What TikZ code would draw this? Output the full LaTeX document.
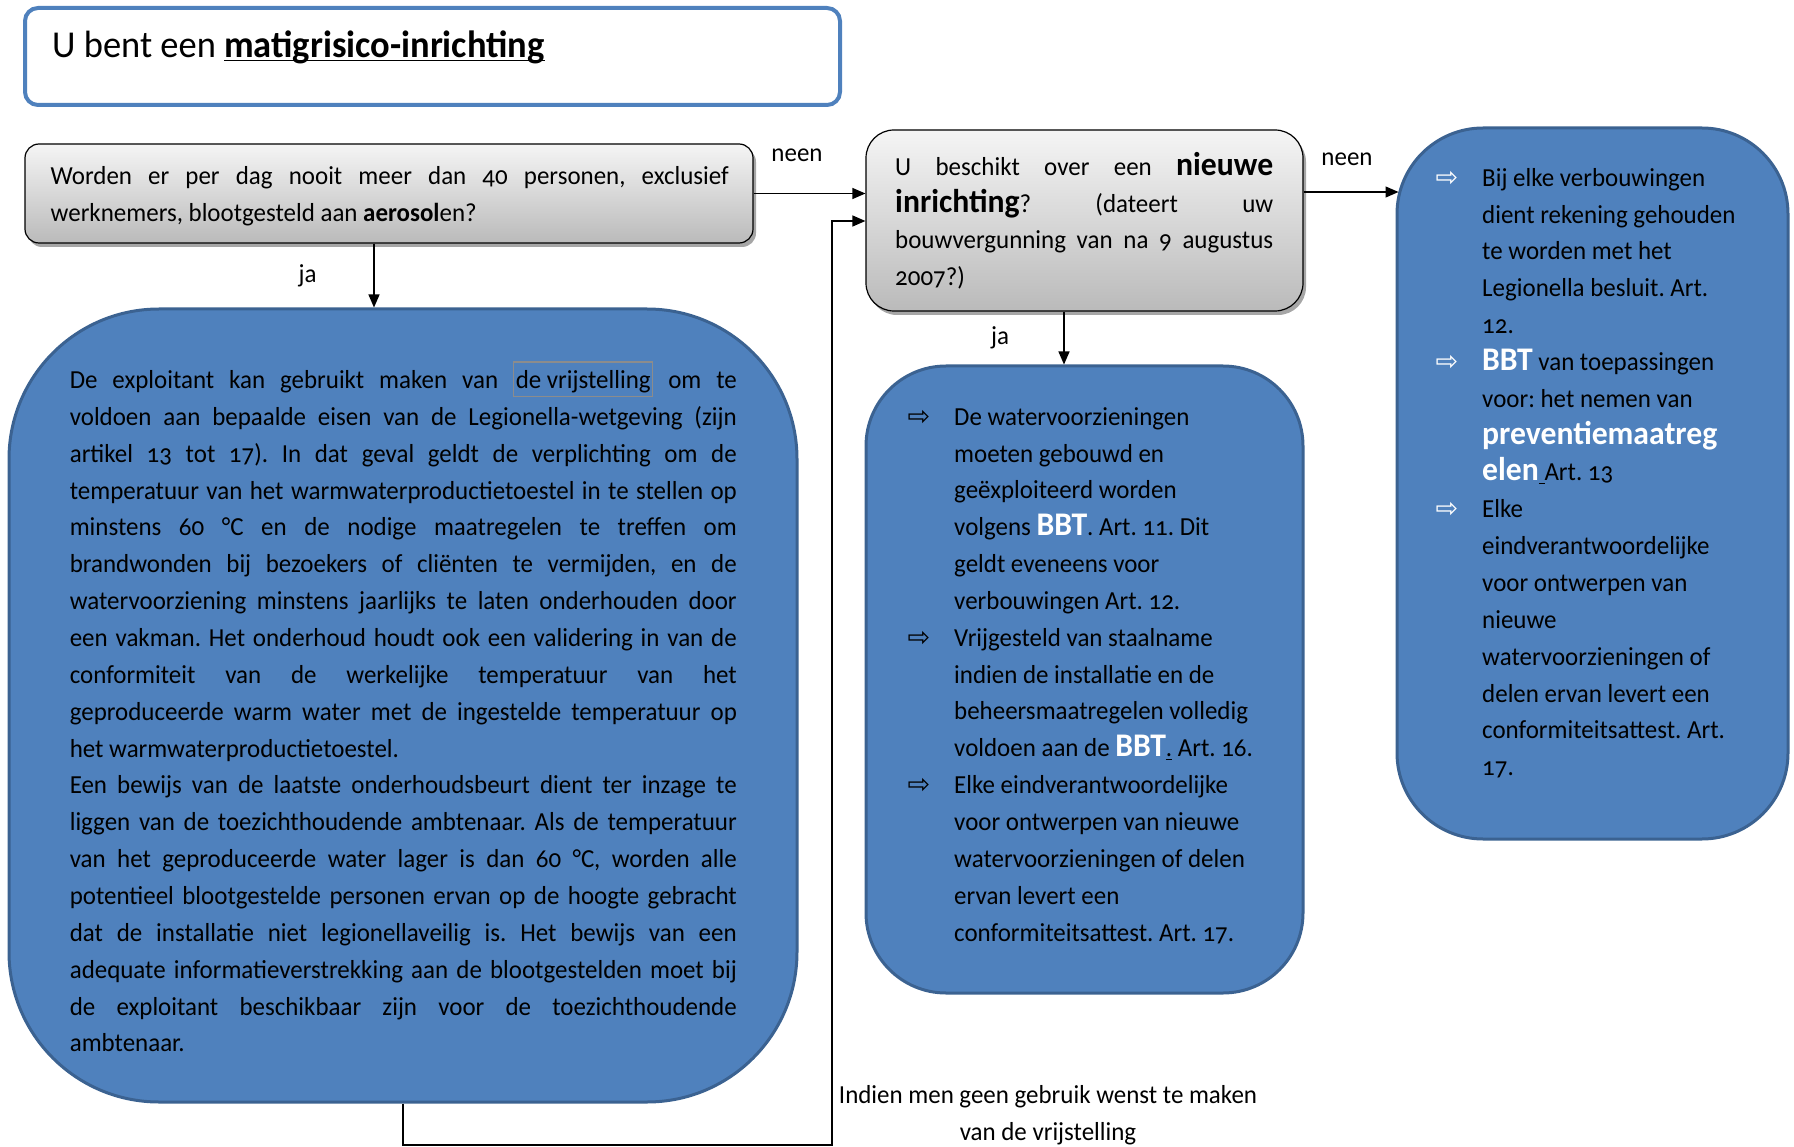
\documentclass[tikz,border=0pt]{standalone}
\usepackage{fontspec}
\setmainfont{Carlito}[Numbers=OldStyle,FakeStretch=0.96]
\newfontfamily\symfont{DejaVu Sans}
\usetikzlibrary{arrows.meta,shadows}
\frenchspacing
\definecolor{boxblue}{HTML}{4F81BD}
\definecolor{boxedge}{HTML}{3B6291}
\definecolor{titleedge}{HTML}{4F81BD}
\definecolor{framegray}{HTML}{8C8C8C}
\newcommand\jl[2]{\hbox to #1{#2}}
\newcommand\rl[1]{\hbox{#1}}
\newcommand\myul[1]{\setbox0\hbox{#1}\rlap{\rule[-3.5pt]{\wd0}{1.8pt}}\box0\relax}
\newcommand\vrij[1]{{\color{framegray}\setlength\fboxrule{1.2pt}\setlength\fboxsep{1.5pt}\fbox{\color{black}\rule[-5.5pt]{0pt}{30pt}#1}}}
\newcommand\bul[1]{\llap{{\color{#1}\symfont\fontsize{27}{27}\selectfont ⇨}\hspace{24pt}}}
\newcommand\emw[1]{{\fontsize{33}{36.85}\selectfont\bfseries\color{white}#1}}
\newcommand\emb[1]{{\fontsize{33}{36.85}\selectfont\bfseries #1}}
\newcommand\bodyfont{\fontsize{26}{36.85}\selectfont\frenchspacing}
\begin{document}
\begin{tikzpicture}[x=1pt,y=-1pt,
  qbox/.style={draw=black, line width=1.2pt, top color=black!4, bottom color=black!27,
    drop shadow={shadow xshift=3pt,shadow yshift=-4pt,opacity=0.35,fill=black}, inner sep=0},
  bbox/.style={draw=boxedge, line width=3pt, fill=boxblue, inner sep=0},
  txt/.style={anchor=north west, inner sep=0, font=\bodyfont},
  lab/.style={anchor=base, inner sep=0, font=\bodyfont},
  arr/.style={line width=1.3pt, -{Triangle[length=13pt,width=11pt]}},
  con/.style={line width=1.3pt}]
\useasboundingbox (0,0) rectangle (1794,1147);

% boxes
\node[draw=titleedge, line width=4pt, fill=white, rounded corners=13pt, inner sep=0,
  minimum width=815pt, minimum height=97pt] (title) at (432.5,56.5) {};
\node[qbox, rounded corners=14pt, minimum width=728pt, minimum height=99pt] (q1) at (389,193.5) {};
\node[qbox, rounded corners=28pt, minimum width=437pt, minimum height=181pt] (q2) at (1084.5,220.5) {};
\node[bbox, rounded corners=150pt, minimum width=788pt, minimum height=793pt] (big) at (403,705.5) {};
\node[bbox, rounded corners=80pt, minimum width=437pt, minimum height=627pt] (b2) at (1084.5,679.5) {};
\node[bbox, rounded corners=86pt, minimum width=391pt, minimum height=711pt] (b3) at (1592.5,483.5) {};

% texts
\node[anchor=base west, inner sep=0, font=\fontsize{38}{40}\selectfont] (ttext) at (52,58)
  {U bent een \textbf{\myul{matigrisico-inrichting}}};

\node[txt] (q1text) at (50.5,158.2) {\vtop{%
  \jl{678pt}{\strut Worden er per dag nooit meer dan 40 personen, exclusief}
  \rl{werknemers, blootgesteld aan \textbf{aerosol}en?}}};

\node[txt] (q2text) at (895,149.2) {\vtop{%
  \jl{378pt}{\strut U beschikt over een \emb{nieuwe}}
  \jl{378pt}{\emb{inrichting}? (dateert uw}
  \jl{378pt}{bouwvergunning van na 9 augustus}
  \rl{2007?)}}};

\node[txt] (bigtext) at (69.6,361.2) {\vtop{%
  \jl{667pt}{\strut De exploitant kan gebruikt maken van \vrij{de vrijstelling} om te}
  \jl{667pt}{voldoen aan bepaalde eisen van de Legionella-wetgeving (zijn}
  \jl{667pt}{artikel 13 tot 17). In dat geval geldt de verplichting om de}
  \jl{667pt}{temperatuur van het warmwaterproductietoestel in te stellen op}
  \jl{667pt}{minstens 60 °C en de nodige maatregelen te treffen om}
  \jl{667pt}{brandwonden bij bezoekers of cliënten te vermijden, en de}
  \jl{667pt}{watervoorziening minstens jaarlijks te laten onderhouden door}
  \jl{667pt}{een vakman. Het onderhoud houdt ook een validering in van de}
  \jl{667pt}{conformiteit van de werkelijke temperatuur van het}
  \jl{667pt}{geproduceerde warm water met de ingestelde temperatuur op}
  \rl{het warmwaterproductietoestel.}
  \jl{667pt}{Een bewijs van de laatste onderhoudsbeurt dient ter inzage te}
  \jl{667pt}{liggen van de toezichthoudende ambtenaar. Als de temperatuur}
  \jl{667pt}{van het geproduceerde water lager is dan 60 °C, worden alle}
  \jl{667pt}{potentieel blootgestelde personen ervan op de hoogte gebracht}
  \jl{667pt}{dat de installatie niet legionellaveilig is. Het bewijs van een}
  \jl{667pt}{adequate informatieverstrekking aan de blootgestelden moet bij}
  \jl{667pt}{de exploitant beschikbaar zijn voor de toezichthoudende}
  \rl{ambtenaar.}}};

\node[txt] (b2text) at (954,399.2) {\vtop{%
  \rl{\strut\bul{black}De watervoorzieningen}
  \rl{moeten gebouwd en}
  \rl{geëxploiteerd worden}
  \rl{volgens \emw{BBT}. Art. 11. Dit}
  \rl{geldt eveneens voor}
  \rl{verbouwingen Art. 12.}
  \rl{\bul{black}Vrijgesteld van staalname}
  \rl{indien de installatie en de}
  \rl{beheersmaatregelen volledig}
  \rl{voldoen aan de \emw{BBT}\myul{.} Art. 16.}
  \rl{\bul{black}Elke eindverantwoordelijke}
  \rl{voor ontwerpen van nieuwe}
  \rl{watervoorzieningen of delen}
  \rl{ervan levert een}
  \rl{conformiteitsattest. Art. 17.}}};

\node[txt] (b3text) at (1482,160.2) {\vtop{%
  \rl{\strut\bul{white}Bij elke verbouwingen}
  \rl{dient rekening gehouden}
  \rl{te worden met het}
  \rl{Legionella besluit. Art.}
  \rl{12.}
  \rl{\bul{white}\emw{BBT} van toepassingen}
  \rl{voor: het nemen van}
  \rl{\emw{preventiemaatreg}}
  \rl{\emw{elen}\myul{\ }Art. 13}
  \rl{\bul{white}Elke}
  \rl{eindverantwoordelijke}
  \rl{voor ontwerpen van}
  \rl{nieuwe}
  \rl{watervoorzieningen of}
  \rl{delen ervan levert een}
  \rl{conformiteitsattest. Art.}
  \rl{17.}}};

% labels
\node[lab] (neen1) at (797,162) {neen};
\node[lab] (ja1) at (307.5,283) {ja};
\node[lab] (neen2) at (1347,166) {neen};
\node[lab] (ja2) at (1000,345) {ja};
\node[anchor=north, inner sep=0, align=center, font=\bodyfont] (loopl) at (1048,1077.2)
  {\strut Indien men geen gebruik wenst te maken\\van de vrijstelling};

% connector helpers
\coordinate (j1) at (374,0);
\coordinate (j2) at (1064,0);
\coordinate (a2) at (0,192);
\coordinate (lp1) at (403,1145);
\coordinate (lp2) at (832,1145);
\coordinate (lp3) at (832,221);

% connectors
\draw[arr] (q1.east) -- (q1.east -| q2.west);
\draw[arr] (q1.south -| j1) -- (big.north -| j1);
\draw[arr] (q2.east |- a2) -- ([xshift=3pt]b3.west |- a2);
\draw[arr] (q2.south -| j2) -- (b2.north -| j2);
\draw[arr] (big.south) -- (big.south |- lp1) -- (lp2) -- (lp3) -- (q2.west |- lp3);
\end{tikzpicture}
\end{document}
